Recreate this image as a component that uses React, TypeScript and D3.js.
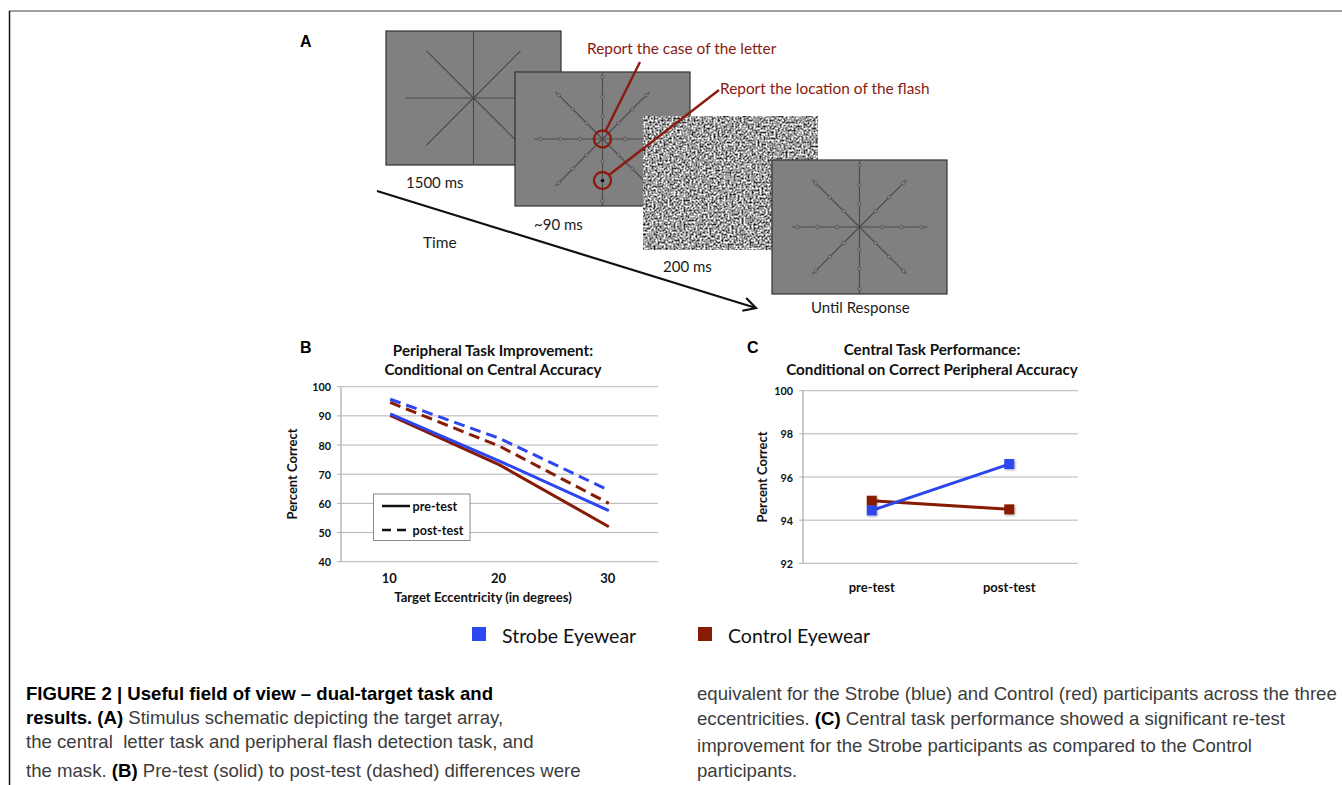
import React from 'react';
import * as d3 from 'd3';

// panel B: peripheral task, percent correct by eccentricity
const eccentricities = [10, 20, 30];
const strobePre = [90.7, 74.5, 57.5];
const strobePost = [95.7, 82.3, 64.5];
const controlPre = [90.2, 73.2, 52.0];
const controlPost = [94.6, 79.6, 60.0];
const periphTicks = [40, 50, 60, 70, 80, 90, 100];

// panel C: central task, percent correct by session
const sessions = ['pre-test', 'post-test'];
const strobeCentral = [94.45, 96.6];
const controlCentral = [94.9, 94.5];
const centralTicks = [92, 94, 96, 98, 100];

// panel A: timeline labels
const frameLabels = ['1500 ms', '~90 ms', '200 ms', 'Until Response'];

const BLUE = '#2d46ee';
const RED = '#871b05';
const ANNO = '#8b1a10';
const CAL = 'Lato, "Open Sans", sans-serif';
const ARIAL = '"Liberation Sans", Arial, sans-serif';

const FW = 175;
const FH = 134;
const frames = [
  { x: 386, y: 31, kind: 'cross' },
  { x: 515, y: 72, kind: 'array' },
  { x: 643, y: 116, kind: 'noise' },
  { x: 772, y: 160, kind: 'array' },
];

const arms = d3.range(8).map(i => {
  const a = (i * Math.PI) / 4;
  const len = i % 2 === 0 ? (i % 4 === 0 ? 68 : 67) : 66.5;
  return { dx: Math.cos(a), dy: Math.sin(a), len };
});
const beadRadii = [22.5, 42, 62];

function Frame({ x, y, kind }: { x: number; y: number; kind: string }) {
  const cx = x + FW / 2;
  const cy = y + FH / 2;
  if (kind === 'noise') {
    return (
      <rect x={x} y={y} width={FW} height={FH} fill="#999" filter="url(#mask-noise)" stroke="#222" strokeWidth={1.2} />
    );
  }
  return (
    <g>
      <rect x={x} y={y} width={FW} height={FH} fill="#808080" stroke="#333" strokeWidth={1.2} />
      {arms.map((a, i) => (
        <line key={i} x1={cx} y1={cy} x2={cx + a.dx * a.len} y2={cy + a.dy * a.len} stroke="#4a4a4a" strokeWidth={1.1} />
      ))}
      {kind === 'array' &&
        arms.map((a, i) =>
          beadRadii.map((r, j) => (
            <circle key={`${i}-${j}`} cx={cx + a.dx * r} cy={cy + a.dy * r} r={1.8} fill="#858585" stroke="#555" strokeWidth={0.8} />
          ))
        )}
      {kind === 'array' && <circle cx={cx} cy={cy} r={3} fill="none" stroke="#666" strokeWidth={0.8} strokeDasharray="1,1" />}
    </g>
  );
}

function PanelA() {
  const f2 = frames[1];
  const c2x = f2.x + FW / 2;
  const c2y = f2.y + FH / 2;
  const flashY = c2y + 41.5;
  // time arrow
  const ax1 = 377, ay1 = 191, ax2 = 756, ay2 = 308;
  const ang = Math.atan2(ay2 - ay1, ax2 - ax1);
  const hl = 14;
  const h1 = [ax2 - hl * Math.cos(ang - 0.5), ay2 - hl * Math.sin(ang - 0.5)];
  const h2 = [ax2 - hl * Math.cos(ang + 0.5), ay2 - hl * Math.sin(ang + 0.5)];
  const labelPos = [
    [406, 182],
    [534, 224],
    [663, 266],
    [811, 307],
  ];
  return (
    <g>
      <text x={300} y={41} dominantBaseline="central" fontFamily={ARIAL} fontWeight="bold" fontSize={16}>A</text>
      {frames.map((f, i) => (
        <Frame key={i} {...f} />
      ))}
      {frameLabels.map((t, i) => (
        <text key={t} x={labelPos[i][0]} y={labelPos[i][1]} dominantBaseline="central" fontFamily={CAL} fontSize={15} fill="#1c1c1c">
          {t}
        </text>
      ))}
      <text x={423} y={242} dominantBaseline="central" fontFamily={CAL} fontSize={15.5} fill="#1c1c1c">Time</text>
      <line x1={ax1} y1={ay1} x2={ax2} y2={ay2} stroke="#111" strokeWidth={2.2} />
      <polyline points={`${h1[0]},${h1[1]} ${ax2},${ay2} ${h2[0]},${h2[1]}`} fill="none" stroke="#111" strokeWidth={2.2} />
      {/* annotations */}
      <circle cx={c2x} cy={c2y} r={8.5} fill="none" stroke={ANNO} strokeWidth={2.4} />
      <circle cx={c2x} cy={flashY} r={1.6} fill="#000" />
      <circle cx={c2x} cy={flashY} r={8.5} fill="none" stroke={ANNO} strokeWidth={2.4} />
      <line x1={c2x + 3} y1={c2y - 8} x2={640} y2={62} stroke={ANNO} strokeWidth={2.4} />
      <line x1={c2x + 6.5} y1={flashY - 5.5} x2={719} y2={90} stroke={ANNO} strokeWidth={2.4} />
      <text x={587} y={48} dominantBaseline="central" fontFamily={CAL} fontSize={15.4} fill={ANNO}>Report the case of the letter</text>
      <text x={720} y={88} dominantBaseline="central" fontFamily={CAL} fontSize={15.4} fill={ANNO}>Report the location of the flash</text>
    </g>
  );
}

function PanelB() {
  const x = d3.scaleLinear().domain([5.5, 34.5]).range([341, 658]);
  const y = d3.scaleLinear().domain([40, 100]).range([561.7, 386.7]);
  const line = d3
    .line<number>()
    .x((_, i) => x(eccentricities[i]))
    .y(d => y(d));
  const series = [
    { v: controlPre, c: RED, dash: null },
    { v: controlPost, c: RED, dash: '11,6' },
    { v: strobePre, c: BLUE, dash: null },
    { v: strobePost, c: BLUE, dash: '11,6' },
  ];
  return (
    <g>
      <text x={300} y={347} dominantBaseline="central" fontFamily={ARIAL} fontWeight="bold" fontSize={16}>B</text>
      <g fontFamily={CAL} fontWeight="bold" fontSize={15.2} textAnchor="middle" fill="#111">
        <text x={493} y={350} dominantBaseline="central">Peripheral Task Improvement:</text>
        <text x={493} y={369} dominantBaseline="central">Conditional on Central Accuracy</text>
      </g>
      {periphTicks.map(t => (
        <g key={t}>
          <line x1={337} x2={658} y1={y(t)} y2={y(t)} stroke="#b5b5b5" strokeWidth={1} />
          <text x={331} y={y(t)} dominantBaseline="central" textAnchor="end" fontFamily={CAL} fontWeight="bold" fontSize={10.8} fill="#111">
            {t}
          </text>
        </g>
      ))}
      <line x1={341} x2={341} y1={y(100)} y2={y(40)} stroke="#a8a8a8" strokeWidth={1.2} />
      {series.map((s, i) => (
        <path key={i} d={line(s.v) || ''} fill="none" stroke={s.c} strokeWidth={3} strokeDasharray={s.dash || undefined} />
      ))}
      {eccentricities.map(e => (
        <text key={e} x={x(e) - 1} y={578} dominantBaseline="central" textAnchor="middle" fontFamily={CAL} fontWeight="bold" fontSize={13} fill="#111">
          {e}
        </text>
      ))}
      <text x={483} y={597} dominantBaseline="central" textAnchor="middle" fontFamily={CAL} fontWeight="bold" fontSize={13.1} fill="#111">
        Target Eccentricity (in degrees)
      </text>
      <text transform={`translate(292,474) rotate(-90)`} dominantBaseline="central" textAnchor="middle" fontFamily={CAL} fontWeight="bold" fontSize={13} fill="#111">
        Percent Correct
      </text>
      {/* line style legend */}
      <rect x={373.5} y={494} width={96.5} height={46.5} fill="#fff" stroke="#8a8a8a" strokeWidth={1} />
      <line x1={382} x2={410} y1={506} y2={506} stroke="#111" strokeWidth={2.5} />
      <line x1={382} x2={410} y1={530} y2={530} stroke="#111" strokeWidth={2.5} strokeDasharray="9,6" />
      <g fontFamily={CAL} fontWeight="bold" fontSize={12.6} fill="#111">
        <text x={412.5} y={506} dominantBaseline="central">pre-test</text>
        <text x={412.5} y={530} dominantBaseline="central">post-test</text>
      </g>
    </g>
  );
}

function PanelC() {
  const x = d3.scaleBand<string>().domain(sessions).range([803, 1078]);
  const y = d3.scaleLinear().domain([92, 100]).range([563.3, 390.7]);
  const cx = (s: string) => (x(s) || 0) + x.bandwidth() / 2;
  const line = d3
    .line<number>()
    .x((_, i) => cx(sessions[i]))
    .y(d => y(d));
  const series = [
    { v: controlCentral, c: RED },
    { v: strobeCentral, c: BLUE },
  ];
  return (
    <g>
      <text x={747} y={347} dominantBaseline="central" fontFamily={ARIAL} fontWeight="bold" fontSize={16}>C</text>
      <g fontFamily={CAL} fontWeight="bold" fontSize={15.2} textAnchor="middle" fill="#111">
        <text x={932} y={349} dominantBaseline="central">Central Task Performance:</text>
        <text x={932} y={369} dominantBaseline="central">Conditional on Correct Peripheral Accuracy</text>
      </g>
      {centralTicks.map(t => (
        <g key={t}>
          <line x1={799} x2={1078} y1={y(t)} y2={y(t)} stroke="#b5b5b5" strokeWidth={1} />
          <text x={793} y={y(t)} dominantBaseline="central" textAnchor="end" fontFamily={CAL} fontWeight="bold" fontSize={10.8} fill="#111">
            {t}
          </text>
        </g>
      ))}
      <line x1={803} x2={803} y1={y(100)} y2={y(92)} stroke="#a8a8a8" strokeWidth={1.2} />
      {series.map((s, i) => (
        <g key={i}>
          <path d={line(s.v) || ''} fill="none" stroke={s.c} strokeWidth={3} />
          {s.v.map((v, j) => (
            <rect key={j} x={cx(sessions[j]) - 5} y={y(v) - 5} width={10} height={10} fill={s.c} filter="url(#marker-shadow)" />
          ))}
        </g>
      ))}
      {sessions.map(s => (
        <text key={s} x={cx(s)} y={587} dominantBaseline="central" textAnchor="middle" fontFamily={CAL} fontWeight="bold" fontSize={13} fill="#111">
          {s}
        </text>
      ))}
      <text transform={`translate(762,477) rotate(-90)`} dominantBaseline="central" textAnchor="middle" fontFamily={CAL} fontWeight="bold" fontSize={13} fill="#111">
        Percent Correct
      </text>
    </g>
  );
}

function Legend() {
  const items = [
    { label: 'Strobe Eyewear', c: BLUE, x: 472 },
    { label: 'Control Eyewear', c: RED, x: 698 },
  ];
  return (
    <g>
      {items.map(it => (
        <g key={it.label}>
          <rect x={it.x} y={627} width={14} height={14} fill={it.c} />
          <text x={it.x + 30} y={635} dominantBaseline="central" fontFamily={CAL} fontSize={19.5} fill="#111">
            {it.label}
          </text>
        </g>
      ))}
    </g>
  );
}

function Caption() {
  const gray = '#3c3c3c';
  return (
    <g fontFamily={ARIAL} fontSize={18.6} fill={gray}>
      <text x={26} y={700} fontWeight="bold" fill="#000">FIGURE 2 | Useful field of view – dual-target task and</text>
      <text x={26} y={724}>
        <tspan fontWeight="bold" fill="#000">results. (A)</tspan> Stimulus schematic depicting the target array,
      </text>
      <text x={26} y={748} style={{ whiteSpace: 'pre' }}>the central  letter task and peripheral flash detection task, and</text>
      <text x={26} y={777}>
        the mask. <tspan fontWeight="bold" fill="#000">(B)</tspan> Pre-test (solid) to post-test (dashed) differences were
      </text>
      <text x={697} y={700}>equivalent for the Strobe (blue) and Control (red) participants across the three</text>
      <text x={697} y={725}>
        eccentricities. <tspan fontWeight="bold" fill="#000">(C)</tspan> Central task performance showed a significant re-test
      </text>
      <text x={697} y={752}>improvement for the Strobe participants as compared to the Control</text>
      <text x={697} y={777}>participants.</text>
    </g>
  );
}

export default function App() {
  return (
    <svg width={1342} height={785} style={{ position: 'absolute', left: 0, top: 0, background: '#fff' }}>
      <defs>
        <filter id="mask-noise" x="0" y="0" width="100%" height="100%" colorInterpolationFilters="sRGB">
          <feTurbulence type="fractalNoise" baseFrequency="0.5" numOctaves={2} seed={4} result="t" />
          <feColorMatrix in="t" type="matrix" values="1 0 0 0 0  1 0 0 0 0  1 0 0 0 0  0 0 0 0 1" />
          <feComponentTransfer>
            <feFuncR type="linear" slope={2} intercept={-0.38} />
            <feFuncG type="linear" slope={2} intercept={-0.38} />
            <feFuncB type="linear" slope={2} intercept={-0.38} />
          </feComponentTransfer>
        </filter>
        <filter id="marker-shadow" x="-50%" y="-50%" width="200%" height="200%">
          <feDropShadow dx={1} dy={1} stdDeviation={0.8} floodOpacity={0.35} />
        </filter>
      </defs>
      <rect width={1342} height={785} fill="#fff" />
      <line x1={9} x2={1342} y1={11} y2={11} stroke="#808080" strokeWidth={1.5} />
      <line x1={9.5} x2={9.5} y1={11} y2={785} stroke="#111" strokeWidth={1.5} />
      <PanelA />
      <PanelB />
      <PanelC />
      <Legend />
      <Caption />
    </svg>
  );
}
